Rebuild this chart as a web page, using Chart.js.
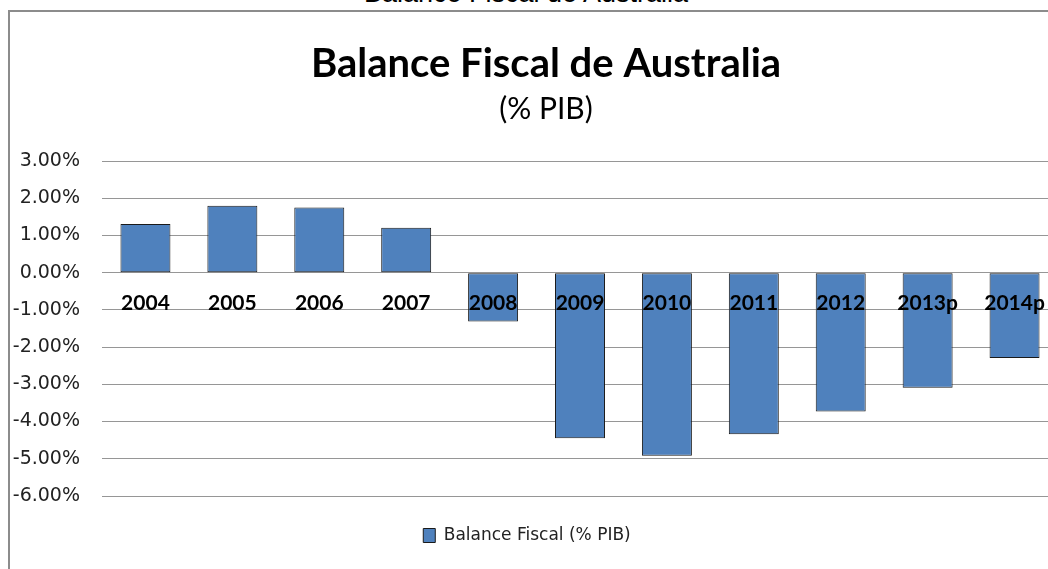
<!DOCTYPE html>
<html lang="es">
<head>
    <meta charset="UTF-8">
    <title>Balance Fiscal de Australia</title>
    <script src="https://cdn.jsdelivr.net/npm/chart.js"></script>
    <style>
        body {
            margin: 0;
            background: #ffffff;
            width: 1048px;
            height: 569px;
            overflow: hidden;
            position: relative;
        }

        /* caption of the picture, cut off by the top edge */
        .caption {
            position: absolute;
            left: 0;
            top: -20px;
            width: 1052px;
            text-align: center;
            font-family: 'Liberation Sans', Arial, sans-serif;
            font-size: 27px;
            line-height: 27px;
            color: #000;
        }

        /* chart frame, only left and top edges are visible */
        .frame {
            position: absolute;
            left: 8px;
            top: 10px;
            width: 1074px;
            height: 600px;
            border-left: 2px solid #8c8c8c;
            border-top: 2px solid #8c8c8c;
        }

        canvas { display: block; }
    </style>
</head>
<body>
    <div class="caption">Balance Fiscal de Australia</div>
    <div class="frame">
        <canvas id="fiscalChart" width="1072" height="542"></canvas>
    </div>

    <script>
        const years = ["2004", "2005", "2006", "2007", "2008", "2009", "2010", "2011", "2012", "2013p", "2014p"];
        const balance = [1.31, 1.80, 1.75, 1.21, -1.31, -4.45, -4.92, -4.34, -3.73, -3.09, -2.29];
        const seriesName = "Balance Fiscal (% PIB)";
        const yMin = -6;
        const yMax = 3;
        const yStep = 1;

        // legend sits a bit left of the chart centre in the original
        const legendShift = {
            id: "legendShift",
            afterLayout(chart) {
                chart.legend.left -= 19;
                chart.legend.right -= 19;
            }
        };

        const ctx = document.getElementById("fiscalChart").getContext("2d");
        const fiscalChart = new Chart(ctx, {
            type: "bar",
            data: {
                labels: years,
                datasets: [{
                    label: seriesName,
                    data: balance,
                    backgroundColor: "#4f81bd",
                    borderColor: "#1a1a1a",
                    borderWidth: 1,
                    borderSkipped: false,
                    categoryPercentage: 1,
                    barPercentage: 0.575
                }]
            },
            options: {
                responsive: false,
                animation: false,
                devicePixelRatio: 1,
                plugins: {
                    title: {
                        display: true,
                        text: "Balance Fiscal de Australia",
                        color: "#000",
                        font: { family: "Lato", size: 40, weight: "bold" },
                        padding: { top: 28, bottom: 0 }
                    },
                    subtitle: {
                        display: true,
                        text: "(% PIB)",
                        color: "#000",
                        font: { family: "Lato", size: 30, weight: "normal" },
                        padding: { top: 3, bottom: 34 }
                    },
                    legend: {
                        position: "bottom",
                        labels: {
                            color: "#222",
                            font: { family: "DejaVu Sans", size: 17 },
                            boxWidth: 12,
                            boxHeight: 14,
                            padding: 31
                        }
                    },
                    tooltip: { enabled: false }
                },
                scales: {
                    x: {
                        position: { y: 0 },
                        grid: { display: false, drawTicks: false },
                        border: { display: false },
                        ticks: {
                            z: 1, // year labels are drawn over the bars
                            color: "#000",
                            font: { family: "Lato", size: 21, weight: "bold" },
                            padding: 18,
                            maxRotation: 0
                        }
                    },
                    y: {
                        min: yMin,
                        max: yMax,
                        grid: { color: "#969696", lineWidth: 1, drawTicks: false },
                        border: { display: false },
                        ticks: {
                            stepSize: yStep,
                            color: "#222",
                            font: { family: "DejaVu Sans", size: 19 },
                            padding: 22,
                            callback: v => v.toFixed(2) + "%"
                        },
                        afterFit: scale => { scale.width = 92; }
                    },
                    // empty space on the right of the plot, like the original frame
                    yRight: {
                        position: "right",
                        grid: { display: false },
                        border: { display: false },
                        ticks: { display: false },
                        afterFit: scale => { scale.width = 24; }
                    }
                }
            },
            plugins: [legendShift]
        });
    </script>
</body>
</html>
